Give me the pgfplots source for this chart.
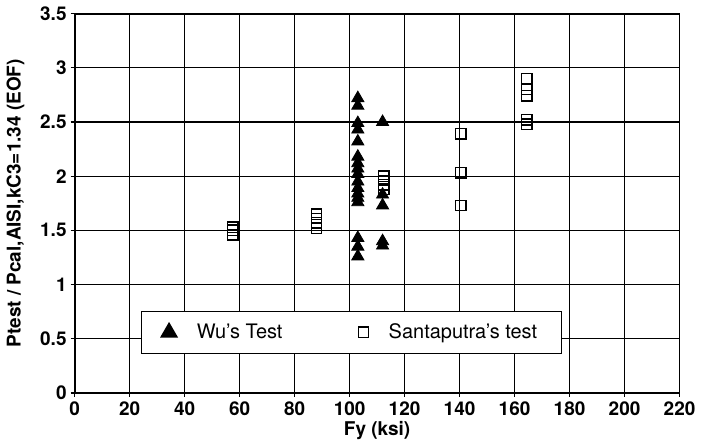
\documentclass[border=0pt]{standalone}
\usepackage{fontspec}
\setmainfont{TeX Gyre Heros}
\usepackage{pgfplots}
\pgfplotsset{compat=1.18}
\pgfplotsset{bigtri legend/.style={legend image code/.code={\draw[mark repeat=2,mark phase=2,##1,mark size=4.6pt] plot coordinates {(0cm,0cm)(0.3cm,0cm)(0.6cm,0cm)};}}}
\begin{document}
\begin{tikzpicture}
\begin{axis}[
  width=303pt, height=190pt, scale only axis,
  xmin=0, xmax=220, ymin=0, ymax=3.5,
  xtick={0,20,...,220}, ytick={0,0.5,...,3.5},
  yticklabels={0,0.5,1,1.5,2,2.5,3,3.5},
  grid=major, major grid style={black, line width=0.6pt},
  axis line style={black, line width=0.9pt},
  tick align=center, major tick length=4pt, tick style={black, line width=0.6pt},
  xtick pos=bottom, ytick pos=left,
  /pgf/number format/assume math mode=true,
  ticklabel style={font=\fontsize{9.5}{11}\selectfont\bfseries},
  xticklabel style={yshift=1pt},
  yticklabel style={xshift=1.5pt},
  xlabel={\bfseries Fy (ksi)},
  ylabel={\bfseries Ptest / Pcal,AISI,kC3=1.34 (EOF)},
  label style={font=\fontsize{9.5}{11}\selectfont},
  xlabel style={yshift=4pt},
  ylabel style={yshift=1pt},
  legend columns=2,
  legend style={at={(0.109,0.103)}, anchor=south west, draw=black, line width=0.6pt,
    font=\fontsize{10}{12}\selectfont, inner xsep=10pt, inner ysep=4pt,
    /tikz/every odd column/.append style={column sep=8pt},
    /tikz/every even column/.append style={column sep=36pt}},
  legend cell align=left,
]
\addplot[only marks, mark=triangle*, mark size=3.5pt, black, bigtri legend] coordinates {
(103,2.72) (103,2.65) (103,2.49) (103,2.43) (103,2.32) (103,2.18) (103,2.12)
(103,2.07) (103,2.02) (103,1.95) (103,1.89) (103,1.84) (103,1.80) (103,1.76)
(103,1.43) (103,1.35) (103,1.26)
(112,2.50) (112,1.83) (112,1.73) (112,1.40) (112,1.36)
};
\addlegendentry{Wu's Test}
\addplot[only marks, mark=square, mark size=2.6pt, black, mark options={line width=0.7pt}] coordinates {
(57.5,1.53) (57.5,1.50) (57.5,1.46)
(88,1.65) (88,1.61) (88,1.57) (88,1.52)
(112.5,2.00) (112.5,1.96) (112.5,1.92) (112.5,1.88)
(140.5,2.39) (140.5,2.03) (140.5,1.73)
(164.5,2.90) (164.5,2.80) (164.5,2.74) (164.5,2.52) (164.5,2.48)
};
\addlegendentry{Santaputra's test}
\end{axis}
\end{tikzpicture}
\end{document}
